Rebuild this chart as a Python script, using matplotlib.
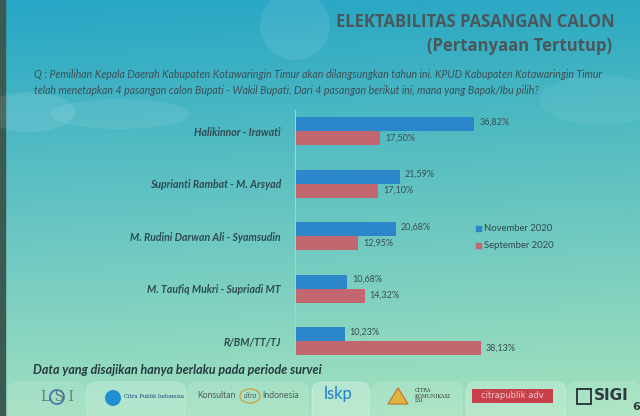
import numpy as np
import matplotlib
matplotlib.use("Agg")
import matplotlib.pyplot as plt
from matplotlib.patches import FancyBboxPatch, Ellipse, Rectangle, Circle, Polygon

categories = ["Halikinnor - Irawati", "Suprianti Rambat - M. Arsyad",
              "M. Rudini Darwan Ali - Syamsudin", "M. Taufiq Mukri - Supriadi MT",
              "R/BM/TT/TJ"]
november = [36.82, 21.59, 20.68, 10.68, 10.23]
september = [17.50, 17.10, 12.95, 14.32, 38.13]
series_names = ["November 2020", "September 2020"]

W, H = 640, 416
BLUE = "#2b87c9"
RED = "#c2666f"


def fx(px):
    return px / W


def fy(py):
    return 1 - py / H


def pct(v):
    return f"{v:.2f}".replace(".", ",") + "%"


fig = plt.figure(figsize=(6.4, 4.16), dpi=100)

# slide background (teal gradient)
bg = fig.add_axes([0, 0, 1, 1])
bg.set_xlim(0, W)
bg.set_ylim(H, 0)
bg.axis("off")
yy, xx = np.mgrid[0:H, 0:W]
t = yy / H
s = xx / W
top = np.array([38, 166, 198]) / 255
bot = np.array([160, 224, 192]) / 255
img = top[None, None, :] * (1 - t[..., None]) + bot[None, None, :] * t[..., None]
img = img + (s[..., None] * 0.04 * np.array([0.6, 0.3, -0.3]))
img = np.clip(img, 0, 1)
bg.imshow(img, extent=[0, W, H, 0], aspect="auto", zorder=0)
bg.add_patch(Rectangle((0, 0), 5, H, color="#3a5a52", zorder=1))
# soft clouds
for cx, cy, ew, eh, a in [(295, 25, 70, 70, 0.09), (30, 112, 90, 40, 0.10),
                          (120, 114, 140, 30, 0.08), (600, 100, 120, 50, 0.06)]:
    bg.add_patch(Ellipse((cx, cy), ew, eh, color="white", alpha=a, lw=0, zorder=1))

# footer tabs
for x0, x1, a in [(8, 84, 0.10), (86, 186, 0.22), (188, 308, 0.12), (312, 370, 0.28),
                  (372, 462, 0.12), (466, 566, 0.22), (568, 640, 0.12)]:
    bg.add_patch(FancyBboxPatch((x0, 382), x1 - x0, 40,
                                boxstyle="round,pad=0,rounding_size=10",
                                fc="white", ec="white", alpha=a, lw=0.8, zorder=1))

# title
fig.text(fx(615), fy(22), "ELEKTABILITAS PASANGAN CALON", ha="right", va="center",
         fontsize=12, fontweight="bold", family="Open Sans", color="#4a575b")
fig.text(fx(612), fy(46), "(Pertanyaan Tertutup)", ha="right", va="center",
         fontsize=12, fontweight="bold", family="Open Sans", color="#4a575b")

# question
q1 = ("Q : Pemilihan Kepala Daerah Kabupaten Kotawaringin Timur akan dilangsungkan "
      "tahun ini. KPUD Kabupaten Kotawaringin Timur")
q2 = ("telah menetapkan 4 pasangan calon Bupati - Wakil Bupati. Dari 4 pasangan "
      "berikut ini, mana yang Bapak/Ibu pilih?")
fig.text(fx(34), fy(75), q1, ha="left", va="center", fontsize=7.6,
         style="italic", family="Lato", color="#3d4f55")
fig.text(fx(34), fy(90), q2, ha="left", va="center", fontsize=7.6,
         style="italic", family="Lato", color="#3d4f55")

# bar chart
ax = fig.add_axes([fx(295), fy(358), fx(295 + 4.87 * 50) - fx(295), (358 - 110) / H])
ax.patch.set_alpha(0)
idx = np.arange(len(categories))
h = 14 / 52.5
ax.barh(idx - h / 2, november, height=h, color=BLUE, label=series_names[0])
ax.barh(idx + h / 2, september, height=h, color=RED, label=series_names[1])
ax.set_xlim(0, 50)
ax.set_ylim(4.32, -0.4)
for i in idx:
    ax.text(november[i] + 1.0, i - h / 2 - 0.04, pct(november[i]), va="center",
            fontsize=6.5, family="Lato", color="#3a4d52")
    ax.text(september[i] + 1.0, i + h / 2, pct(september[i]), va="center",
            fontsize=6.5, family="Lato", color="#3a4d52")
ax.set_yticks(idx)
ax.set_yticklabels(categories, fontsize=7.6, family="Lato", style="italic",
                   fontweight="bold", color="#2e4c52")
ax.tick_params(axis="y", length=0, pad=10)
ax.set_xticks([])
for sp in ["top", "right", "bottom"]:
    ax.spines[sp].set_visible(False)
ax.spines["left"].set_color("#a9d2cf")
ax.spines["left"].set_linewidth(0.8)

# legend
for k, (name, col) in enumerate(zip(series_names, [BLUE, RED])):
    py = 228 + 17 * k
    bg.add_patch(Rectangle((476, py - 2.5), 5, 5, color=col, zorder=3))
    fig.text(fx(484), fy(py), name, ha="left", va="center", fontsize=6.8,
             family="Lato", color="#2f4a50")

# footer note
fig.text(fx(33), fy(370), "Data yang disajikan hanya berlaku pada periode survei",
         ha="left", va="center", fontsize=9, family="Lato", style="italic",
         fontweight="bold", color="#263a40")

# logos (approximate, as text)
fig.text(fx(57), fy(397), "L S I", ha="center", va="center", fontsize=10,
         family="DejaVu Serif", color="#6b7a86")
bg.add_patch(Circle((57, 397), 7, fc="none", ec="#3f6ea8", lw=1.2, zorder=3))
bg.add_patch(Circle((113, 398), 8, fc="#1f8fd0", ec="none", zorder=3))
fig.text(fx(124), fy(397), "Citra Publik Indonesia", ha="left", va="center",
         fontsize=3.8, family="DejaVu Serif", color="#26407a")
fig.text(fx(197), fy(396), "Konsultan", ha="left", va="center", fontsize=6.2,
         family="Lato", color="#4e5a60")
bg.add_patch(Ellipse((250, 396), 20, 14, fc="none", ec="#c9a640", lw=1.0, zorder=3))
fig.text(fx(250), fy(396), "citra", ha="center", va="center", fontsize=5,
         family="Lato", style="italic", color="#4e5a60")
fig.text(fx(262), fy(396), "Indonesia", ha="left", va="center", fontsize=6.2,
         family="Lato", color="#4e5a60")
fig.text(fx(338), fy(394), "lskp", ha="center", va="center", fontsize=12,
         family="Lato", color="#1f7fc4")
bg.add_patch(Polygon([[388, 404], [398, 388], [408, 404]], closed=True,
                     fc="#e0b440", ec="#c27030", lw=0.8, zorder=3))
fig.text(fx(415), fy(396), "CITRA\nKOMUNIKASI\nLSI", ha="left", va="center",
         fontsize=3.6, family="DejaVu Serif", color="#3a3a3a", linespacing=1.0)
bg.add_patch(Rectangle((472, 389), 81, 14, fc="#c8404a", ec="none", zorder=3))
fig.text(fx(512), fy(396), "citrapublik adv", ha="center", va="center",
         fontsize=6, family="DejaVu Sans", color="#f2c7cb")
bg.add_patch(Rectangle((577, 389), 14, 15, fc="none", ec="#2d3b3e", lw=1.4, zorder=3))
fig.text(fx(594), fy(396), "SIGI", ha="left", va="center", fontsize=11,
         fontweight="bold", family="DejaVu Sans", color="#2d3b3e")
fig.text(fx(636), fy(407), "6", ha="center", va="center", fontsize=8,
         fontweight="bold", family="DejaVu Sans", color="#2d3b3e")

fig.savefig("out.png", dpi=100)
plt.close(fig)
